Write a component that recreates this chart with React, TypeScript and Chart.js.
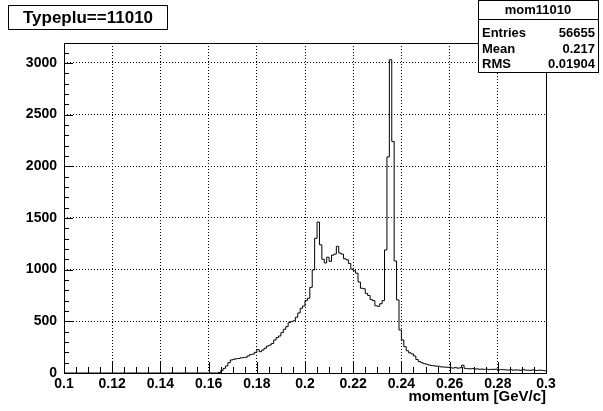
import React, { useEffect, useRef } from "react";
import { Chart, registerables } from "chart.js";

Chart.register(...registerables);

const histTitle = "Typeplu==11010";
const statsName = "mom11010";
const statsLabels = ["Entries", "Mean", "RMS"];
const statsValues = ["56655", "0.217", "0.01904"];
const xAxisTitle = "momentum [GeV/c]";

const xMin = 0.1;
const xMax = 0.3;
const binWidth = 0.001;
const yMax = 3192;
const xTickValues = [0.1, 0.12, 0.14, 0.16, 0.18, 0.2, 0.22, 0.24, 0.26, 0.28, 0.3];
const yTickValues = [0, 500, 1000, 1500, 2000, 2500, 3000];
const xMinorStep = 0.005;
const yMinorStep = 100;

// bin contents, 200 bins of width 0.001 from 0.1 to 0.3
const counts = [
  0, 0, 0, 0, 0, 0, 0, 0, 0, 0,
  0, 0, 0, 0, 0, 0, 0, 0, 0, 0,
  0, 0, 0, 0, 0, 0, 0, 0, 0, 0,
  0, 0, 0, 0, 0, 0, 0, 0, 0, 0,
  0, 0, 0, 0, 0, 0, 0, 0, 0, 0,
  0, 0, 0, 0, 0, 0, 0, 0, 0, 0,
  0, 0, 0, 0, 5, 23, 45, 68, 100, 126,
  132, 138, 140, 146, 149, 152, 165, 178, 183, 200,
  226, 206, 222, 240, 260, 270, 285, 319, 342, 358,
  390, 423, 448, 487, 497, 505, 539, 581, 626, 648,
  700, 723, 829, 997, 1303, 1460, 1240, 1100, 1065, 1120,
  1080, 1140, 1150, 1225, 1160, 1150, 1105, 1095, 1060, 1005,
  990, 965, 880, 820, 815, 770, 750, 710, 700, 650,
  645, 670, 700, 1190, 2090, 3030, 2240, 1084, 706, 416,
  320, 255, 215, 195, 185, 165, 130, 110, 100, 90,
  85, 78, 72, 70, 66, 65, 60, 58, 56, 55,
  50, 48, 52, 47, 50, 75, 45, 42, 40, 44,
  38, 40, 36, 38, 35, 37, 33, 36, 35, 38,
  30, 34, 32, 30, 28, 33, 27, 30, 29, 26,
  35, 28, 27, 25, 30, 26, 24, 28, 25, 22,
];

const FONT = '"Liberation Sans", Arial, Helvetica, sans-serif';

function fmt(v: number) {
  return parseFloat(v.toFixed(4)).toString();
}

const rootPlugin = {
  id: "rootDecor",
  afterDraw(chart: any) {
    const ctx = chart.ctx;
    const { left, right, top, bottom } = chart.chartArea;
    const xs = chart.scales.x;
    const ys = chart.scales.y;
    ctx.save();
    ctx.strokeStyle = "#000";
    ctx.lineWidth = 1;
    ctx.beginPath();
    const nx = Math.round((xMax - xMin) / xMinorStep);
    const majEvery = Math.round((xTickValues[1] - xTickValues[0]) / xMinorStep);
    for (let i = 0; i <= nx; i++) {
      const v = xMin + i * xMinorStep;
      const px = Math.round(xs.getPixelForValue(v)) + 0.5;
      const len = i % majEvery === 0 ? 11 : 6;
      ctx.moveTo(px, bottom);
      ctx.lineTo(px, bottom - len);
    }
    const yMajor = yTickValues[1] - yTickValues[0];
    for (let v = 0; v <= yMax; v += yMinorStep) {
      const py = Math.round(ys.getPixelForValue(v)) + 0.5;
      const len = v % yMajor === 0 ? 9 : 5;
      ctx.moveTo(left, py);
      ctx.lineTo(left + len, py);
    }
    ctx.stroke();
    ctx.strokeRect(Math.round(left) + 0.5, Math.round(top) + 0.5, Math.round(right - left), Math.round(bottom - top));

    ctx.fillStyle = "#000";
    ctx.font = `bold 15px ${FONT}`;
    ctx.textAlign = "right";
    ctx.textBaseline = "middle";
    ctx.fillText(xAxisTitle, right, 397);

    ctx.fillStyle = "#fff";
    ctx.fillRect(8, 5, 159, 24);
    ctx.strokeRect(8.5, 5.5, 159, 24);
    ctx.fillStyle = "#000";
    ctx.font = `bold 17px ${FONT}`;
    ctx.textAlign = "center";
    ctx.fillText(histTitle, 88, 18);

    const bx = 478, by = 0, bw = 120, bh = 72;
    ctx.fillStyle = "#fff";
    ctx.fillRect(bx, by, bw, bh);
    ctx.strokeRect(bx + 0.5, by + 0.5, bw, bh);
    ctx.beginPath();
    ctx.moveTo(bx, 19.5);
    ctx.lineTo(bx + bw, 19.5);
    ctx.stroke();
    ctx.fillStyle = "#000";
    ctx.font = `bold 13px ${FONT}`;
    ctx.textAlign = "center";
    ctx.fillText(statsName, bx + bw / 2, 10);
    const rowsY = [33, 49, 64];
    statsLabels.forEach((lab, i) => {
      ctx.textAlign = "left";
      ctx.fillText(lab, bx + 4, rowsY[i]);
      ctx.textAlign = "right";
      ctx.fillText(statsValues[i], bx + bw - 3, rowsY[i]);
    });
    ctx.restore();
  },
};

export default function App() {
  const ref = useRef<HTMLCanvasElement | null>(null);
  useEffect(() => {
    if (!ref.current) return;
    const points = counts.map((c, i) => ({ x: xMin + i * binWidth, y: c }));
    points.push({ x: xMax, y: counts[counts.length - 1] });
    const chart = new Chart(ref.current, {
      type: "line",
      data: {
        datasets: [
          {
            data: points,
            stepped: "before",
            borderColor: "#000",
            borderWidth: 1,
            pointRadius: 0,
            fill: false,
          },
        ],
      },
      options: {
        responsive: false,
        animation: false,
        devicePixelRatio: 1,
        layout: { padding: { top: 43, right: 57, bottom: 0, left: 0 } },
        plugins: { legend: { display: false }, tooltip: { enabled: false }, title: { display: false } },
        scales: {
          x: {
            type: "linear",
            min: xMin,
            max: xMax,
            border: { display: false, dash: [1, 2] },
            grid: { color: "#000", lineWidth: 1, drawTicks: false },
            ticks: {
              autoSkip: false,
              maxRotation: 0,
              padding: 3,
              color: "#000",
              font: { family: FONT, size: 14, weight: "bold" },
              callback: (v: any) => fmt(Number(v)),
            },
            afterBuildTicks: (s: any) => { s.ticks = xTickValues.map((v) => ({ value: v })); },
            afterFit: (s: any) => { s.height = 38; },
          },
          y: {
            type: "linear",
            min: 0,
            max: yMax,
            border: { display: false, dash: [1, 2] },
            grid: { color: "#000", lineWidth: 1, drawTicks: false },
            ticks: {
              padding: 7,
              color: "#000",
              font: { family: FONT, size: 14, weight: "bold" },
              callback: (v: any) => fmt(Number(v)),
            },
            afterBuildTicks: (s: any) => { s.ticks = yTickValues.map((v) => ({ value: v })); },
            afterFit: (s: any) => { s.width = 64; },
          },
        },
      },
      plugins: [rootPlugin],
    } as any);
    return () => chart.destroy();
  }, []);
  return (
    <div style={{ position: "fixed", left: 0, top: 0, width: 603, height: 411, background: "#fff" }}>
      <canvas ref={ref} width={603} height={411} />
    </div>
  );
}
